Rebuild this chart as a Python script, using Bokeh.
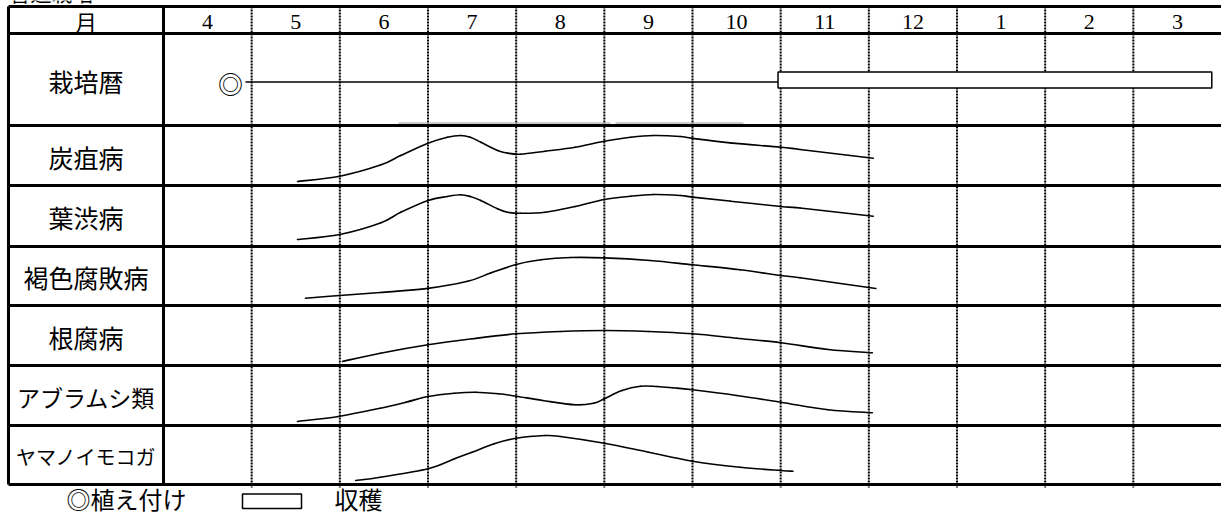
from bokeh.plotting import figure
from bokeh.models import Range1d
from bokeh.core.properties import value
from bokeh.embed import file_html
from bokeh.resources import INLINE

# ---------------- data ----------------
title_text = "普通栽培"
header_label = "月"
months = ["4", "5", "6", "7", "8", "9", "10", "11", "12", "1", "2", "3"]
schedule_label = "栽培暦"
pests = ["炭疽病", "葉渋病", "褐色腐敗病", "根腐病", "アブラムシ類", "ヤマノイモコガ"]

# schedule (positions in months from start of April)
planting_at = 0.76
growing_span = [0.93, 6.97]
harvest_span = [6.97, 11.89]

# occurrence curves: x = months from start of April, y = relative level in row (0..1)
tanso_x = [1.52, 2.0, 2.46, 2.69, 3.0, 3.22, 3.37, 3.48, 3.6, 3.79, 3.9, 4.05, 4.33, 4.67, 5.0, 5.3, 5.56, 5.86, 6.0, 6.43, 7.0, 7.22, 8.05]
tanso_y = [0.067, 0.155, 0.34, 0.5, 0.705, 0.805, 0.833, 0.805, 0.72, 0.583, 0.54, 0.522, 0.572, 0.638, 0.738, 0.805, 0.833, 0.817, 0.785, 0.711, 0.638, 0.6, 0.455]

hashibu_x = [1.52, 2.0, 2.46, 2.69, 3.0, 3.22, 3.37, 3.48, 3.6, 3.79, 3.9, 4.05, 4.33, 4.67, 5.0, 5.3, 5.56, 5.86, 6.0, 6.43, 7.0, 7.22, 8.05]
hashibu_y = [0.115, 0.197, 0.385, 0.56, 0.754, 0.82, 0.848, 0.82, 0.754, 0.618, 0.562, 0.546, 0.562, 0.656, 0.77, 0.825, 0.852, 0.836, 0.81, 0.743, 0.656, 0.63, 0.497]

kasshoku_x = [1.61, 2.0, 2.46, 3.0, 3.45, 3.71, 4.0, 4.28, 4.62, 5.0, 5.52, 6.0, 6.54, 7.0, 7.22, 8.08]
kasshoku_y = [0.124, 0.17, 0.22, 0.29, 0.41, 0.55, 0.695, 0.775, 0.814, 0.808, 0.763, 0.69, 0.605, 0.508, 0.47, 0.288]

nekusare_x = [2.03, 2.46, 3.0, 3.5, 4.0, 4.5, 5.0, 5.5, 6.0, 6.5, 7.0, 7.54, 8.04]
nekusare_y = [0.067, 0.205, 0.345, 0.445, 0.528, 0.567, 0.583, 0.567, 0.528, 0.455, 0.38, 0.267, 0.212]

aburamushi_x = [1.52, 2.0, 2.46, 2.75, 3.0, 3.3, 3.54, 3.8, 4.0, 4.3, 4.67, 4.88, 5.0, 5.2, 5.41, 5.6, 5.78, 6.0, 6.5, 7.0, 7.54, 8.04]
aburamushi_y = [0.067, 0.155, 0.288, 0.388, 0.483, 0.538, 0.555, 0.528, 0.488, 0.417, 0.345, 0.372, 0.445, 0.583, 0.655, 0.65, 0.628, 0.595, 0.5, 0.388, 0.262, 0.212]

yamanoimokoga_x = [2.18, 2.46, 3.0, 3.3, 3.5, 3.75, 4.0, 4.33, 4.5, 5.0, 5.5, 6.0, 6.54, 7.0, 7.14]
yamanoimokoga_y = [0.068, 0.124, 0.266, 0.435, 0.547, 0.69, 0.785, 0.83, 0.814, 0.7, 0.547, 0.395, 0.293, 0.237, 0.225]

curves = [(tanso_x, tanso_y), (hashibu_x, hashibu_y), (kasshoku_x, kasshoku_y),
          (nekusare_x, nekusare_y), (aburamushi_x, aburamushi_y), (yamanoimokoga_x, yamanoimokoga_y)]

legend_plant = "◎植え付け"
legend_harvest = "収穫"

# ---------------- layout (pixels) ----------------
W, H = 1221, 516
LABEL_RIGHT = 163.0
X0 = -LABEL_RIGHT * 12 / (W - LABEL_RIGHT)
MW = W / (12 - X0)


def px(xp):
    return (xp - LABEL_RIGHT) / MW


row_edges = [6, 33, 125, 185, 246, 305, 365, 425, 484]
LEFT = 8

p = figure(width=W, height=H, x_range=Range1d(X0, 12), y_range=Range1d(H, 0),
           output_backend="svg", toolbar_location=None, min_border=0)
p.axis.visible = False
p.grid.visible = False
p.outline_line_color = None
p.background_fill_color = "white"
p.border_fill_color = "white"

jp = value("Noto Sans CJK JP")

# title (cut off at top, as in the source)
p.text(x=[px(9)], y=[6], text=[title_text], text_font=jp, text_font_size="21px",
       text_align="left", text_baseline="bottom", text_color="black")

# dotted month lines
p.segment(x0=list(range(1, 12)), y0=[row_edges[0]] * 11, x1=list(range(1, 12)), y1=[row_edges[-1] + 3] * 11,
          line_color="black", line_width=2, line_dash="2 1")

# faint gray artefact line in schedule row
p.segment(x0=[px(398), px(615)], y0=[122.5, 122.5], x1=[px(610), px(743)], y1=[122.5, 122.5],
          line_color="#9a9a9a", line_width=1)

# solid grid
p.segment(x0=[px(LEFT)] * len(row_edges), y0=row_edges, x1=[12] * len(row_edges), y1=row_edges,
          line_color="black", line_width=3)
p.segment(x0=[px(LEFT), 0], y0=[row_edges[0], row_edges[0]], x1=[px(LEFT), 0], y1=[row_edges[-1], row_edges[-1]],
          line_color="black", line_width=3)

# header texts
p.text(x=[px((LEFT + LABEL_RIGHT) / 2)], y=[20], text=[header_label], text_font=jp, text_font_size="22px",
       text_align="center", text_baseline="middle", text_color="black")
p.text(x=[i + 0.5 for i in range(12)], y=[21] * 12, text=months, text_font=value("Liberation Serif"),
       text_font_size="22px", text_align="center", text_baseline="middle", text_color="black")

# row labels
lab_x = px((LEFT + LABEL_RIGHT) / 2)
labels = [schedule_label] + pests
sizes = ["25px", "25px", "25px", "25px", "25px", "23px", "20px"]
for i, (lab, fs) in enumerate(zip(labels, sizes)):
    yc = (row_edges[i + 1] + row_edges[i + 2]) / 2 + 1
    p.text(x=[lab_x], y=[yc], text=[lab], text_font=jp, text_font_size=fs,
           text_align="center", text_baseline="middle", text_color="black")

# schedule row
sched_y = 81.5
p.text(x=[planting_at], y=[sched_y + 1], text=["◎"], text_font=jp, text_font_size="25px",
       text_align="center", text_baseline="middle", text_color="black")
p.line(x=growing_span, y=[sched_y, sched_y], line_color="black", line_width=1.5)
p.quad(left=[harvest_span[0]], right=[harvest_span[1]], top=[71.5], bottom=[87.5],
       fill_color="white", line_color="black", line_width=1.5)

# curves: smooth path through the read points (Catmull-Rom as cubic Bezier segments)
for i, (cx, cy) in enumerate(curves):
    top = row_edges[i + 2]
    bot = row_edges[i + 3]
    h = bot - top
    ys = [bot - v * h for v in cy]
    n = len(cx)
    x0s, y0s, x1s, y1s, c0x, c0y, c1x, c1y = [], [], [], [], [], [], [], []
    for k in range(n - 1):
        a = max(k - 1, 0)
        d = min(k + 2, n - 1)
        x0s.append(cx[k]); y0s.append(ys[k])
        x1s.append(cx[k + 1]); y1s.append(ys[k + 1])
        c0x.append(cx[k] + (cx[k + 1] - cx[a]) / 6.0)
        c0y.append(ys[k] + (ys[k + 1] - ys[a]) / 6.0)
        c1x.append(cx[k + 1] - (cx[d] - cx[k]) / 6.0)
        c1y.append(ys[k + 1] - (ys[d] - ys[k]) / 6.0)
    p.bezier(x0=x0s, y0=y0s, x1=x1s, y1=y1s, cx0=c0x, cy0=c0y, cx1=c1x, cy1=c1y,
             line_color="black", line_width=1.6, line_cap="round")

# legend
p.text(x=[px(66)], y=[498], text=[legend_plant], text_font=jp, text_font_size="24px",
       text_align="left", text_baseline="middle", text_color="black")
p.quad(left=[px(242)], right=[px(301)], top=[493.5], bottom=[508],
       fill_color="white", line_color="black", line_width=1.5)
p.text(x=[px(334)], y=[498], text=[legend_harvest], text_font=jp, text_font_size="24px",
       text_align="left", text_baseline="middle", text_color="black")

open("out.html", "w").write(file_html(p, INLINE))
